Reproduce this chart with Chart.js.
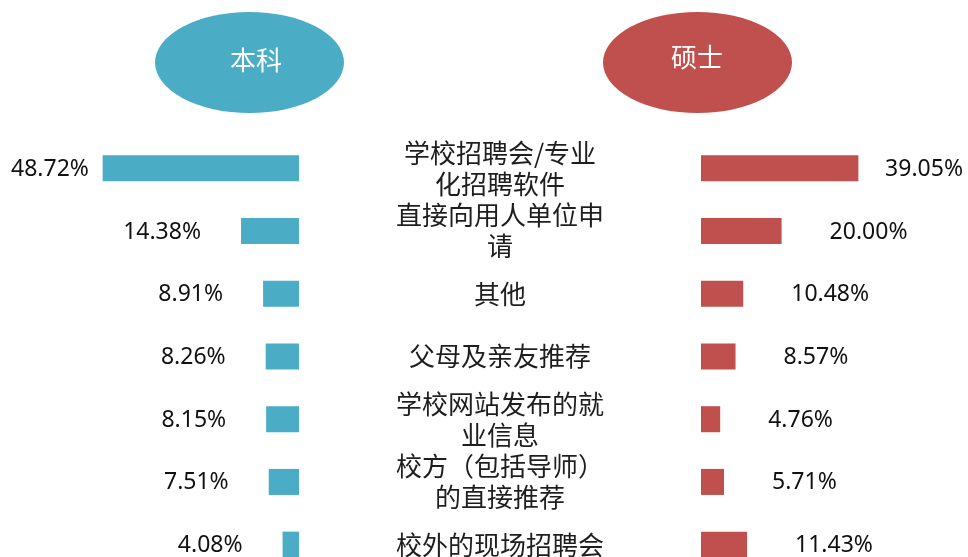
<!DOCTYPE html>
<html>
<head>
<meta charset="utf-8">
<script src="https://cdn.jsdelivr.net/npm/chart.js@4.4.1/dist/chart.umd.min.js"></script>
<style>
  html, body { margin: 0; padding: 0; background: #fff; overflow: hidden; }
  #wrap { position: relative; width: 968px; height: 590px; }
</style>
</head>
<body>
<div id="wrap"><canvas id="channel-chart"></canvas></div>
<script>
// Chart data
var categories = [
    ["学校招聘会/专业", "化招聘软件"],
    ["直接向用人单位申", "请"],
    "其他",
    "父母及亲友推荐",
    ["学校网站发布的就", "业信息"],
    ["校方（包括导师）", "的直接推荐"],
    "校外的现场招聘会"
];
var seriesNames = ["本科", "硕士"];
var bachelorData = [48.72, 14.38, 8.91, 8.26, 8.15, 7.51, 4.08];
var masterData = [39.05, 20.00, 10.48, 8.57, 4.76, 5.71, 11.43];

var teal = "#4BACC6";
var red = "#C0504D";

// where the zero line of each side sits, and how wide 1% is
var chartWidth = 968;
var leftZero = 299;
var rightZero = 701;
var pxPerPct = 4.03;

var labelPlugin = {
    id: "butterflyLabels",
    afterDatasetsDraw: function(chart) {
        var ctx = chart.ctx;
        var yScale = chart.scales.y;
        ctx.save();

        // header ellipses
        var heads = [
            { cx: 249.5, cy: 62.5, tx: 256, ty: 60, color: teal, text: seriesNames[0] },
            { cx: 697.5, cy: 62.5, tx: 697, ty: 57, color: red, text: seriesNames[1] }
        ];
        heads.forEach(function(h) {
            ctx.fillStyle = h.color;
            ctx.beginPath();
            ctx.ellipse(h.cx, h.cy, 94.5, 50.5, 0, 0, Math.PI * 2);
            ctx.fill();
            ctx.fillStyle = "#fff";
            ctx.font = "26px 'Noto Sans CJK SC'";
            ctx.textAlign = "center";
            ctx.textBaseline = "middle";
            ctx.fillText(h.text, h.tx, h.ty);
        });

        // category names down the middle
        ctx.fillStyle = "#1e1e1e";
        ctx.font = "26px 'Noto Sans CJK SC'";
        ctx.textAlign = "center";
        ctx.textBaseline = "middle";
        for (var i = 0; i < categories.length; i++) {
            var lines = [].concat(categories[i]);
            var y = yScale.getPixelForTick(i);
            for (var j = 0; j < lines.length; j++) {
                ctx.fillText(lines[j], 500, y + (j - (lines.length - 1) / 2) * 31);
            }
        }

        // value labels, kept inside the page edges
        ctx.font = "23px 'Noto Sans'";
        ctx.fillStyle = "#111";
        ctx.textAlign = "left";
        chart.getDatasetMeta(0).data.forEach(function(bar, i) {
            var txt = bachelorData[i].toFixed(2) + "%";
            var w = ctx.measureText(txt).width;
            var x = Math.max(11, bar.x - 40 - w);
            ctx.fillText(txt, x, bar.y + 1);
        });
        chart.getDatasetMeta(1).data.forEach(function(bar, i) {
            var txt = masterData[i].toFixed(2) + "%";
            var w = ctx.measureText(txt).width;
            var x = Math.min(chartWidth - 5 - w, bar.x + 48);
            ctx.fillText(txt, x, bar.y + 1);
        });

        ctx.restore();
    }
};

var ctx = document.getElementById("channel-chart");

var chartData = {
    labels: categories,
    datasets: [{
        label: seriesNames[0],
        data: bachelorData,
        xAxisID: "xl",
        backgroundColor: teal,
        borderWidth: 0,
        grouped: false,
        categoryPercentage: 1,
        barPercentage: 0.415
    }, {
        label: seriesNames[1],
        data: masterData,
        xAxisID: "xr",
        backgroundColor: red,
        borderWidth: 0,
        grouped: false,
        categoryPercentage: 1,
        barPercentage: 0.415
    }]
};

var config = {
    type: "bar",
    data: chartData,
    options: {
        indexAxis: "y",
        responsive: true,
        maintainAspectRatio: false,
        animation: false,
        layout: { padding: { top: 137, bottom: 14, left: 0, right: 0 } },
        plugins: {
            legend: { display: false },
            tooltip: { enabled: false }
        },
        scales: {
            y: { type: "category", display: false, offset: true },
            // left side grows leftwards from leftZero
            xl: {
                type: "linear",
                reverse: true,
                display: false,
                min: -(chartWidth - leftZero) / pxPerPct,
                max: leftZero / pxPerPct
            },
            // right side grows rightwards from rightZero
            xr: {
                type: "linear",
                display: false,
                min: -rightZero / pxPerPct,
                max: (chartWidth - rightZero) / pxPerPct
            }
        }
    },
    plugins: [labelPlugin]
};

// Create the chart
var barChart = new Chart(ctx, config);
</script>
</body>
</html>
